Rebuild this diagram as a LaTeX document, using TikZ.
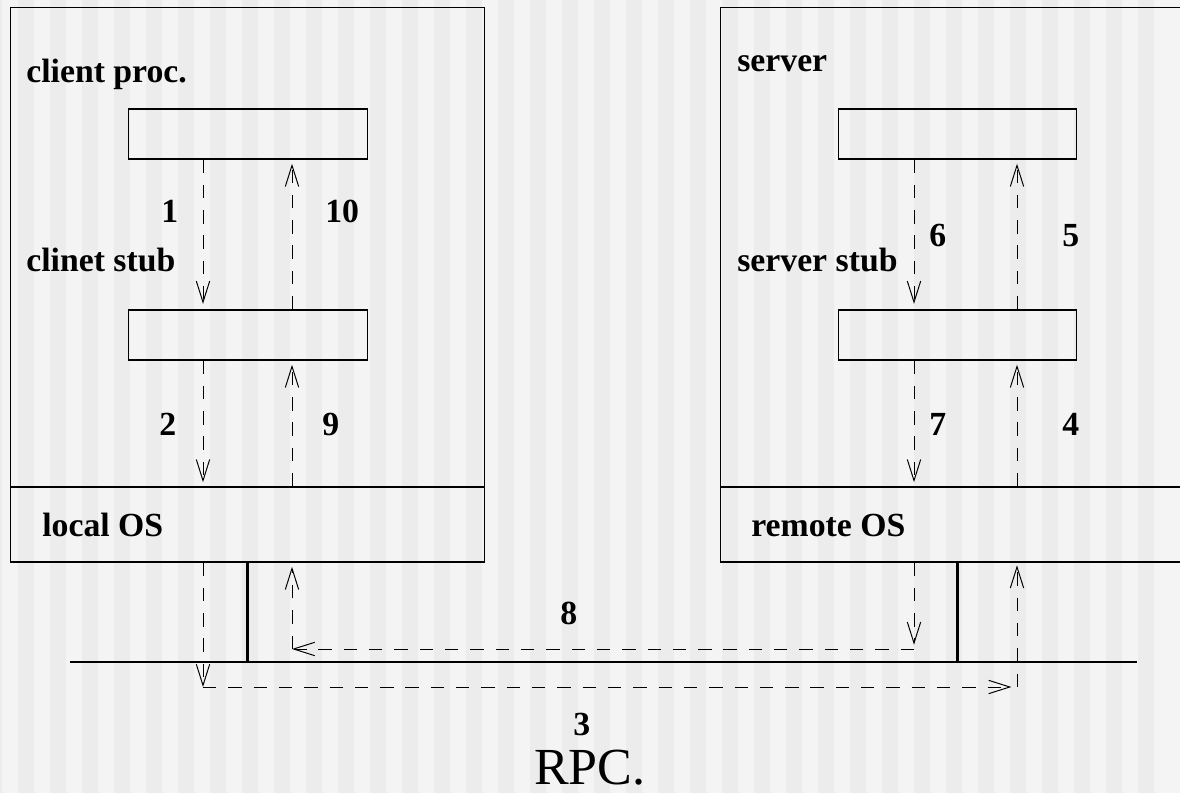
\documentclass[tikz,border=0pt]{standalone}
\usepackage{fontspec}
\setmainfont{Liberation Serif}
\usepackage{tikz}
\usetikzlibrary{arrows.meta,positioning,calc}
\definecolor{bglight}{RGB}{244,244,244}
\definecolor{bgdark}{RGB}{236,236,236}
\tikzset{
  pane/.style={draw, line width=0.75pt, minimum width=11.825cm, inner sep=0pt},
  inbox/.style={draw, line width=0.75pt, minimum width=5.95cm, minimum height=1.25cm, inner sep=0pt},
  lbl/.style={anchor=base west, inner sep=0pt, font=\fontsize{24}{28}\selectfont\bfseries},
  flow/.style={line width=0.7pt, dash pattern=on 9.5pt off 8.5pt,
               -{Straight Barb[length=15pt, width=9.5pt]}},
  wire/.style={line width=1.8pt},
}
\begin{document}
\begin{tikzpicture}[x=0.025cm, y=-0.025cm]
        \useasboundingbox (0,0) rectangle (1180,793);
        \clip (0,0) rectangle (1180,793);
        % striped background
        \fill[bglight] (0,0) rectangle (1180,793);
        \foreach \x in {-14,18,...,1166}
          \fill[bgdark] (\x,0) rectangle ++(16,793);
        % client machine
        \node[pane, minimum height=11.975cm] (cfr) at (247.5,247.5) {};
        \node[pane, minimum height=1.875cm] (los) at (247.5,524.5) {};
        \node[inbox] (cp) at (248,134) {};
        \node[inbox] (cs) at (248,335) {};
        % server machine
        \node[pane, minimum height=11.975cm] (sfr) at (957.5,247.5) {};
        \node[pane, minimum height=1.875cm] (ros) at (957.5,524.5) {};
        \node[inbox] (sp) at (957.5,134) {};
        \node[inbox] (ss) at (957.5,335) {};
        % network
        \coordinate (busL) at (70,662);
        \coordinate (busR) at (1137,662);
        \draw[wire] (busL) -- (busR);
        \draw[wire] (los.south) -- (los.south |- busL);
        \draw[wire] (ros.south) -- (ros.south |- busL);
        % arrow columns
        \coordinate (cd) at (203,0);
        \coordinate (cu) at (292,0);
        \coordinate (sd) at (914,0);
        \coordinate (su) at (1017,0);
        \coordinate (low) at (0,687);
        \coordinate (mid) at (0,649);
        \draw[flow, shorten >=4pt] (cp.south -| cd) -- (cs.north -| cd);
        \draw[flow, shorten >=3pt] (cs.north -| cu) -- (cp.south -| cu);
        \draw[flow, shorten >=3pt] (cs.south -| cd) -- (los.north -| cd);
        \draw[flow, shorten >=3pt] (los.north -| cu) -- (cs.south -| cu);
        \draw[flow] (los.south -| cd) -- (cd |- low);
        \draw[flow, shorten >=4pt] (cd |- low) -- (su |- low);
        \draw[flow, shorten >=2pt] (su |- low) -- (ros.south -| su);
        \draw[flow, shorten >=3pt] (ros.north -| su) -- (ss.south -| su);
        \draw[flow, shorten >=3pt] (ss.north -| su) -- (sp.south -| su);
        \draw[flow, shorten >=4pt] (sp.south -| sd) -- (ss.north -| sd);
        \draw[flow, shorten >=3pt] (ss.south -| sd) -- (ros.north -| sd);
        \draw[flow, shorten >=3pt] (ros.south -| sd) -- (sd |- mid);
        \draw[flow] (sd |- mid) -- (cu |- mid);
        \draw[flow, shorten >=3pt] (cu |- mid) -- (los.south -| cu);
        % labels
        \node[lbl] (tcp) at (26,83) {client proc.};
        \node[lbl] (tcs) at (26,272) {clinet stub};
        \node[lbl] (tlos) at (42,537) {local OS};
        \node[lbl] (tsp) at (737,72) {server};
        \node[lbl] (tss) at (737,272) {server stub};
        \node[lbl] (tros) at (751,537) {remote OS};
        \node[lbl] (n1) at (161,223) {1};
        \node[lbl] (n10) at (325,223) {10};
        \node[lbl] (n2) at (159,436) {2};
        \node[lbl] (n9) at (322,436) {9};
        \node[lbl] (n6) at (929,247) {6};
        \node[lbl] (n5) at (1062,247) {5};
        \node[lbl] (n7) at (929,436) {7};
        \node[lbl] (n4) at (1062,436) {4};
        \node[lbl] (n8) at (560,625) {8};
        \node[lbl] (n3) at (573,736) {3};
        \node[anchor=base west, inner sep=0pt, font=\fontsize{37}{40}\selectfont] (ttl) at (534,784) {RPC.};
\end{tikzpicture}
\end{document}
